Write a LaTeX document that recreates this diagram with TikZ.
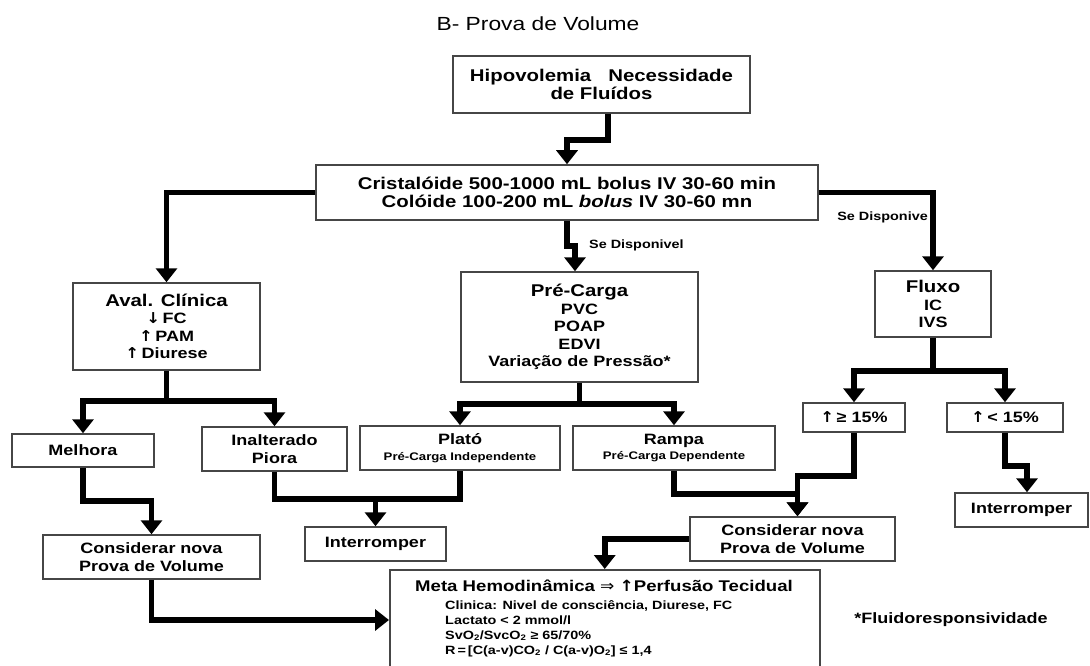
\documentclass[tikz,border=0pt]{standalone}
\usepackage{fontspec}
\setmainfont[FakeStretch=1.2]{Liberation Sans}
\newfontfamily\symfont[FakeStretch=1.1]{DejaVu Sans}
\usepackage{xcolor}
\definecolor{boxGray}{RGB}{70,70,70}
\usetikzlibrary{arrows.meta, positioning}
\newcommand{\bigtxt}{\fontsize{17}{18.5}\selectfont}
\newcommand{\midtxt}{\fontsize{15}{17.5}\selectfont}
\newcommand{\subtxt}{\fontsize{11}{13}\selectfont}
\newcommand{\listtxt}{\fontsize{12}{15}\selectfont}
\newcommand{\upar}{{\symfont ↑}}
\newcommand{\dnar}{{\symfont ↓}}

\begin{document}
\begin{tikzpicture}[
    x=1pt, y=-1pt,
    box/.style={
      rectangle, draw=boxGray, fill=white, line width=1.5pt,
      inner sep=2pt, align=center, font=\midtxt\bfseries
    },
    bigbox/.style={box, font=\bigtxt\bfseries},
    flow/.style={-{Triangle[width=21pt,length=14pt]}, line width=5.8pt},
    link/.style={line width=5.8pt},
    note/.style={font=\fontsize{12}{14}\selectfont\bfseries, inner sep=1pt},
  ]
  \useasboundingbox (0,0) rectangle (1090,666);

  \node[font=\fontsize{19}{22}\selectfont] (title) at (538,24) {B- Prova de Volume};

  \node[bigbox, minimum width=297pt, minimum height=57pt] (hipo) at (601.5,84.5)
    {Hipovolemia~~~Necessidade\\de Fluídos};
  \node[bigbox, minimum width=502pt, minimum height=55pt] (cris) at (567,192.5)
    {Cristalóide 500-1000 mL bolus IV 30-60 min\\Colóide 100-200 mL \textit{bolus} IV 30-60 mn};

  \node[box, minimum width=187pt, minimum height=87pt] (aval) at (166.5,326.5)
    {{\bigtxt Aval. Clínica}\\\dnar\,FC\\\upar\,PAM\\\upar\,Diurese};
  \node[box, minimum width=237pt, minimum height=110pt] (pre) at (579.5,327)
    {{\bigtxt Pré-Carga}\\PVC\\POAP\\EDVI\\Variação de Pressão*};
  \node[box, minimum width=116pt, minimum height=66pt] (fluxo) at (933,304)
    {{\bigtxt Fluxo}\\IC\\IVS};

  \node[box, minimum width=142pt, minimum height=33pt] (melhora) at (83,450.5) {Melhora};
  \node[box, minimum width=145pt, minimum height=44pt] (inalt) at (274.5,449) {Inalterado\\Piora};
  \node[box, minimum width=200pt, minimum height=44pt] (plato) at (460,448)
    {Plató\\[-2pt]{\subtxt Pré-Carga Independente}};
  \node[box, minimum width=202pt, minimum height=44pt] (rampa) at (674,448)
    {Rampa\\[-2pt]{\subtxt Pré-Carga Dependente}};
  \node[box, minimum width=102pt, minimum height=29pt] (ge15) at (854,417.5) {\upar\,≥ 15\%};
  \node[box, minimum width=116pt, minimum height=29pt] (lt15) at (1005,417.5) {\upar\,< 15\%};

  \node[box, minimum width=217pt, minimum height=44pt] (cons1) at (151.5,557) {Considerar nova\\Prova de Volume};
  \node[box, minimum width=141pt, minimum height=34pt] (interr1) at (375.5,544) {Interromper};
  \node[box, minimum width=205pt, minimum height=44pt] (cons2) at (792.5,539) {Considerar nova\\Prova de Volume};
  \node[box, minimum width=133pt, minimum height=34pt] (interr2) at (1021.5,510) {Interromper};

  \node[box, anchor=north west, minimum width=430pt, minimum height=121pt] (meta) at (389,569) {};
  \node[font=\fontsize{15.5}{18}\selectfont\bfseries] (metatit) at (604,586)
    {Meta Hemodinâmica {\symfont\mdseries ⇒} \upar Perfusão Tecidual};
  \node[font=\listtxt\bfseries, anchor=north west, align=left, inner sep=0pt] (metalst) at (445,600)
    {Clinica: Nivel de consciência, Diurese, FC\\
     Lactato < 2 mmol/l\\
     SvO\textsubscript{2}/SvcO\textsubscript{2} ≥ 65/70\%\\
     R\,=\,[C(a-v)CO\textsubscript{2} / C(a-v)O\textsubscript{2}] ≤ 1,4};

  % connectors
  \draw[flow] ([xshift=6.5pt]hipo.south) -- ++(0,26) -| (cris.north);
  \draw[flow] (cris.west) -| (aval.north);
  \draw[flow] (cris.east) -| (fluxo.north);
  \draw[flow] (cris.south) -- ++(0,25) -| ([xshift=-4.5pt]pre.north);

  \foreach \t in {melhora, inalt} {
    \draw[flow] (aval.south) -- ++(0,30) -| (\t.north);
  }
  \foreach \t in {plato, rampa} {
    \draw[flow] (pre.south) -- ++(0,21) -| (\t.north);
  }
  \foreach \t in {ge15, lt15} {
    \draw[flow] (fluxo.south) -- ++(0,33) -| (\t.north);
  }

  \draw[flow] (melhora.south) -- ++(0,33) -| (cons1.north);
  \draw[flow] (cons1.south) |- ([yshift=-51pt]meta.north west);
  \draw[link] (inalt.south) -- ++(0,27) coordinate (j1) -| (plato.south);
  \draw[flow] (j1 -| interr1.north) -- (interr1.north);
  \draw[flow] (rampa.south) -- ++(0,23) -| ([xshift=5pt]cons2.north);
  \draw[flow] (ge15.south) -- ++(0,43) -| ([xshift=5pt]cons2.north);
  \draw[flow] (lt15.south) -- ++(0,33) -| ([xshift=5.5pt]interr2.north);
  \draw[flow] (cons2.west) -| (meta.north);

  % labels
  \node[note, anchor=west] (disp1) at (588,245) {Se Disponivel};
  \node[note, anchor=east] (disp2) at (929,217) {Se Disponive};
  \node[font=\fontsize{15}{17}\selectfont\bfseries] (fluido) at (951,620) {*Fluidoresponsividade};
\end{tikzpicture}
\end{document}
